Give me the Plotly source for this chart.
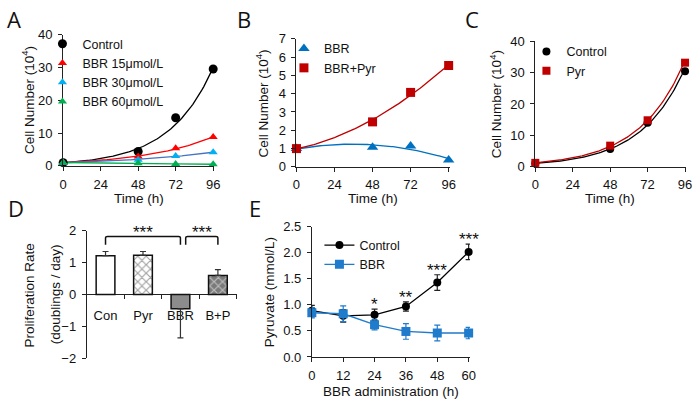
import numpy as np
import plotly.graph_objects as go

# ---- data ----
# A
time_a = [0, 48, 72, 96]
ctrl_a = [1.0, 4.4, 14.7, 29.6]
bbr15_a = [1.0, 2.9, 5.4, 8.8]
bbr30_a = [1.0, 1.9, 3.0, 4.2]
bbr60_a = [1.0, 0.8, 0.6, 0.5]
# B
time_b = [0, 48, 72, 96]
bbr_b = [1.0, 1.07, 1.14, 0.38]
bbrpyr_b = [1.0, 2.46, 4.07, 5.54]
# C
time_c = [0, 48, 72, 96]
ctrl_c = [1.0, 5.6, 14.0, 30.5]
pyr_c = [1.2, 6.7, 14.8, 33.2]
# D
groups_d = ["Con", "Pyr", "BBR", "B+P"]
rate_d = [1.22, 1.23, -0.45, 0.60]
err_d = [0.13, 0.12, 0.91, 0.18]
# E
time_e = [0, 12, 24, 36, 48, 60]
ctrl_e = [0.89, 0.79, 0.81, 0.97, 1.43, 2.02]
ctrl_e_err = [0.10, 0.12, 0.11, 0.09, 0.15, 0.15]
bbr_e = [0.85, 0.83, 0.62, 0.49, 0.46, 0.46]
bbr_e_err = [0.10, 0.15, 0.10, 0.15, 0.15, 0.11]
stars_e = ["", "", "*", "**", "***", "***"]

W, H = 700, 408
FONT = "Liberation Sans"


def px(x):
    return x / W


def py(y):
    return 1 - y / H


def exp_trend(t, y, tt):
    b, a = np.polyfit(t, np.log(y), 1)
    return np.exp(a + b * tt)


def poly_trend(t, y, tt):
    return np.polyval(np.polyfit(t, y, 2), tt)


tt = np.linspace(0, 96, 97)

fig = go.Figure()

# ---- A ----
for y, col, lcol in [(ctrl_a, "black", "black"), (bbr15_a, "#FF0000", "#FF0000"),
                     (bbr30_a, "#00B0F0", "#4472C4"), (bbr60_a, "#00B050", "#00B050")]:
    fig.add_trace(go.Scatter(x=tt, y=exp_trend(time_a, y, tt), mode="lines",
                             line=dict(color=lcol, width=1.3), showlegend=False,
                             xaxis="x", yaxis="y", hoverinfo="skip"))
for y, name, col, sym, sz in [(ctrl_a, "Control", "black", "circle", 9),
                              (bbr15_a, "BBR 15μmol/L", "#FF0000", "triangle-up", 8),
                              (bbr30_a, "BBR 30μmol/L", "#00B0F0", "triangle-up", 8),
                              (bbr60_a, "BBR 60μmol/L", "#00B050", "triangle-up", 8)]:
    fig.add_trace(go.Scatter(x=time_a, y=y, mode="markers", name=name,
                             marker=dict(color=col, symbol=sym, size=sz),
                             xaxis="x", yaxis="y", legend="legend", cliponaxis=False))

# ---- B ----
fig.add_trace(go.Scatter(x=tt, y=poly_trend(time_b, bbr_b, tt), mode="lines",
                         line=dict(color="#0070C0", width=1.3), showlegend=False,
                         xaxis="x2", yaxis="y2", hoverinfo="skip"))
fig.add_trace(go.Scatter(x=tt, y=poly_trend(time_b, bbrpyr_b, tt), mode="lines",
                         line=dict(color="#C00000", width=1.3), showlegend=False,
                         xaxis="x2", yaxis="y2", hoverinfo="skip"))
fig.add_trace(go.Scatter(x=time_b, y=bbr_b, mode="markers", name="BBR",
                         marker=dict(color="#0070C0", symbol="triangle-up", size=10),
                         xaxis="x2", yaxis="y2", legend="legend2", cliponaxis=False))
fig.add_trace(go.Scatter(x=time_b, y=bbrpyr_b, mode="markers", name="BBR+Pyr",
                         marker=dict(color="#C00000", symbol="square", size=9),
                         xaxis="x2", yaxis="y2", legend="legend2", cliponaxis=False))

# ---- C ----
fig.add_trace(go.Scatter(x=tt, y=exp_trend(time_c, ctrl_c, tt), mode="lines",
                         line=dict(color="black", width=1.3), showlegend=False,
                         xaxis="x3", yaxis="y3", hoverinfo="skip"))
fig.add_trace(go.Scatter(x=tt, y=exp_trend(time_c, pyr_c, tt), mode="lines",
                         line=dict(color="#C00000", width=1.3), showlegend=False,
                         xaxis="x3", yaxis="y3", hoverinfo="skip"))
fig.add_trace(go.Scatter(x=time_c, y=ctrl_c, mode="markers", name="Control",
                         marker=dict(color="black", symbol="circle", size=8),
                         xaxis="x3", yaxis="y3", legend="legend3", cliponaxis=False))
fig.add_trace(go.Scatter(x=time_c, y=pyr_c, mode="markers", name="Pyr",
                         marker=dict(color="#C00000", symbol="square", size=8),
                         xaxis="x3", yaxis="y3", legend="legend3", cliponaxis=False))

# ---- D ----
xd = list(range(len(groups_d)))
up = [e if v >= 0 else 0 for v, e in zip(rate_d, err_d)]
down = [e if v < 0 else 0 for v, e in zip(rate_d, err_d)]
fig.add_trace(go.Bar(
    x=xd, y=rate_d, width=0.5, showlegend=False, xaxis="x4", yaxis="y4",
    marker=dict(color=["white", "white", "#8C8C8C", "#7A7A7A"],
                line=dict(color="#111", width=1.5),
                pattern=dict(shape=["", "x", "", "x"],
                             bgcolor=["white", "white", "#8C8C8C", "#7A7A7A"],
                             fgcolor=["#111", "#111", "#111", "#111"],
                             size=6, solidity=0.35)),
    error_y=dict(type="data", symmetric=False, array=up, arrayminus=down,
                 color="#333", thickness=1.2, width=3),
))

# ---- E ----
fig.add_trace(go.Scatter(x=time_e, y=ctrl_e, mode="lines+markers", name="Control",
                         line=dict(color="black", width=1.3),
                         marker=dict(color="black", symbol="circle", size=8),
                         error_y=dict(type="data", array=ctrl_e_err, color="#222",
                                      thickness=1.2, width=3),
                         xaxis="x5", yaxis="y5", legend="legend4", cliponaxis=False))
fig.add_trace(go.Scatter(x=time_e, y=bbr_e, mode="lines+markers", name="BBR",
                         line=dict(color="#1F7BCB", width=1.3),
                         marker=dict(color="#1F7BCB", symbol="square", size=9),
                         error_y=dict(type="data", array=bbr_e_err, color="#1F7BCB",
                                      thickness=1.2, width=3),
                         xaxis="x5", yaxis="y5", legend="legend4", cliponaxis=False))

# ---- axes ----
axis_common = dict(showgrid=False, zeroline=False, showline=True, linecolor="#222",
                   linewidth=1, ticks="outside", ticklen=4, tickcolor="#222",
                   tickfont=dict(family=FONT, size=13, color="#111"))


def xax(l, r, rng, tickvals, anchor):
    return dict(axis_common, domain=[px(l), px(r)], range=rng, tickvals=tickvals,
                anchor=anchor, ticklabelstandoff=2)


def yax(b, t, rng, dtick, anchor, fmt=None):
    d = dict(axis_common, domain=[py(b), py(t)], range=rng, dtick=dtick,
             anchor=anchor, ticklabelstandoff=3)
    if fmt:
        d["tickformat"] = fmt
    return d


tv = [0, 24, 48, 72, 96]
fig.update_layout(
    xaxis=xax(60, 213, [0, 96.5], tv, "y"),
    yaxis=yax(165, 29, [0, 40], 10, "x"),
    xaxis2=xax(296.7, 452.7, [0, 97], tv, "y2"),
    yaxis2=yax(166, 33, [0, 7], 1, "x2"),
    xaxis3=xax(539, 691.7, [0, 96.5], tv, "y3"),
    yaxis3=yax(165.7, 35.7, [0, 40], 10, "x3"),
    xaxis5=xax(312.3, 472.7, [0, 60.5], time_e, "y5"),
    yaxis5=yax(363.3, 228.3, [0, 2.5], 0.5, "x5", ".1f"),
    yaxis4=yax(364.7, 232.3, [-2, 2], 1, "x4"),
)
fig.update_layout(xaxis4=dict(
    axis_common, domain=[px(84), px(236)], range=[-0.5, 3.5],
    tickvals=xd, ticktext=groups_d, ticks="", anchor="free",
    position=py(298.3), layer="below traces", ticklabelstandoff=9,
    minor=dict(tick0=0.5, dtick=1, ticks="outside", ticklen=4, tickcolor="#222"),
))

# ---- legends ----
leg_common = dict(font=dict(family=FONT, size=12.5, color="#111"), bgcolor="rgba(0,0,0,0)",
                  xanchor="left", yanchor="top", tracegroupgap=0)
fig.update_layout(
    legend=dict(leg_common, x=px(39), y=py(23)),
    legend2=dict(leg_common, x=px(284), y=py(28)),
    legend3=dict(leg_common, x=px(530), y=py(31)),
    legend4=dict(leg_common, x=px(320), y=py(232)),
)

# ---- annotations ----
ann = []
tfont = dict(family=FONT, size=13.5, color="#111")
for x, y, text, ang in [
    (25, 97, "Cell Number (10<sup>4</sup>)", -90),
    (262, 100, "Cell Number (10<sup>4</sup>)", -90),
    (499, 101, "Cell Number (10<sup>4</sup>)", -90),
    (136.5, 198.5, "Time (h)", 0),
    (374.7, 198.5, "Time (h)", 0),
    (615, 198.5, "Time (h)", 0),
    (26, 300, "Proliferation Rate", -90),
    (52, 298, "(doublings / day)", -90),
    (269, 296, "Pyruvate (mmol/L)", -90),
    (392.5, 399, "BBR administration (h)", 0),
]:
    ann.append(dict(x=px(x), y=py(y), xref="paper", yref="paper", text=text,
                    textangle=ang, showarrow=False, font=tfont,
                    xanchor="center", yanchor="middle"))
for x, y, letter in [(10, 12, "A"), (243, 12, "B"), (475, 12, "C"),
                     (12, 209, "D"), (255, 209, "E")]:
    ann.append(dict(x=px(x), y=py(y), xref="paper", yref="paper", text=letter,
                    showarrow=False, font=dict(family="Open Sans", size=22, color="#111"),
                    xanchor="center", yanchor="middle"))

# significance stars in E
for t, v, e, s in zip(time_e, ctrl_e, ctrl_e_err, stars_e):
    if s:
        ann.append(dict(x=t, y=v + e, xref="x5", yref="y5", text=s, showarrow=False,
                        font=dict(family=FONT, size=17, color="#111"),
                        yanchor="bottom", yshift=-7))

# brackets in D
brackets = [(0, 2, "***"), (2.14, 3, "***")]
shapes = []
for x0, x1, s in brackets:
    shapes.append(dict(type="path", xref="x4", yref="y4",
                       path=f"M {x0},1.56 L {x0},1.78 Q {x0},1.82 {x0+0.05},1.82 "
                            f"L {x1-0.05},1.82 Q {x1},1.82 {x1},1.78 L {x1},1.56",
                       line=dict(color="#111", width=1.5)))
    ann.append(dict(x=(x0 + x1) / 2, y=1.82, xref="x4", yref="y4", text=s, showarrow=False,
                    font=dict(family=FONT, size=17, color="#111"),
                    yanchor="bottom", yshift=-8))

fig.update_layout(
    annotations=ann, shapes=shapes,
    width=W, height=H, margin=dict(l=0, r=0, t=0, b=0),
    plot_bgcolor="white", paper_bgcolor="white",
    font=dict(family=FONT, size=13, color="#111"),
    barmode="overlay",
)

# page body has a default 8px margin; drop it so the figure sits at the window origin
fig.write_html("out.html", config={"displayModeBar": False},
               post_script="document.body.style.margin='0';")
